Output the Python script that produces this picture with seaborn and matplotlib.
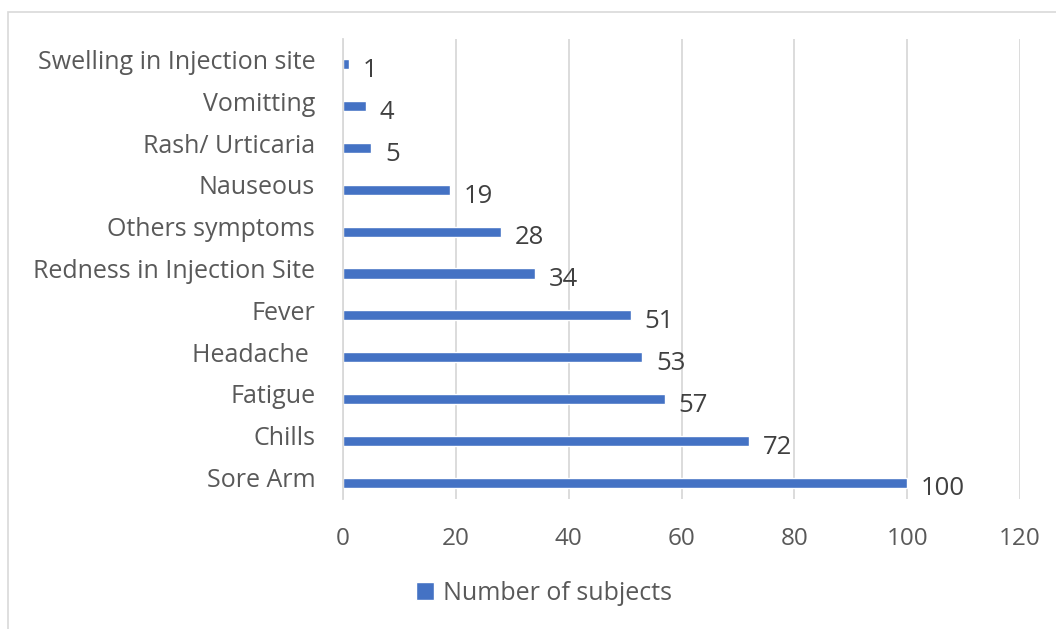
import matplotlib
matplotlib.use("Agg")
import matplotlib.pyplot as plt
import matplotlib.transforms as mtrans
import seaborn as sns
import pandas as pd
from matplotlib.patches import Rectangle

symptoms = ["Swelling in Injection site", "Vomitting", "Rash/ Urticaria", "Nauseous",
            "Others symptoms", "Redness in Injection Site", "Fever", "Headache ",
            "Fatigue", "Chills", "Sore Arm"]
counts = [1, 4, 5, 19, 28, 34, 51, 53, 57, 72, 100]
x_ticks = [0, 20, 40, 60, 80, 100, 120]
series_name = "Number of subjects"

df = pd.DataFrame({"symptom": symptoms, "count": counts})

sns.set_theme(style="white")
plt.rcParams['font.family'] = ['Open Sans', 'DejaVu Sans']

fig = plt.figure(figsize=(10.56, 6.29), dpi=100)
ax = fig.add_axes([343/1056, 1 - 499/629, (1020 - 343)/1056, (499 - 39)/629])

bar_color = "#4472C4"
sns.barplot(data=df, x="count", y="symptom", order=symptoms, color=bar_color,
            width=0.24, ax=ax, saturation=1, label=series_name)

ax.set_xlim(0, 120)
ax.set_ylim(len(symptoms) - 0.5 - 0.108, -0.5 - 0.108)
ax.set_xticks(x_ticks)
ax.set_xticklabels([str(t) for t in x_ticks])
ax.set_xlabel("")
ax.set_ylabel("")
ax.grid(axis="x", color="#d9d9d9", linewidth=1.3)
ax.set_axisbelow(True)
for s in ["top", "right", "bottom"]:
    ax.spines[s].set_visible(False)
ax.spines["left"].set_color("#d9d9d9")
ax.spines["left"].set_linewidth(1.3)
ax.tick_params(axis="x", length=0, pad=20, labelsize=17.5, labelcolor="#595959")
ax.tick_params(axis="y", length=0, pad=20, labelsize=18, labelcolor="#595959")
ax.set_yticks(range(len(symptoms)))
ax.set_yticklabels(symptoms, va="center")
for lbl in ax.get_yticklabels():
    lbl.set_transform(lbl.get_transform() + mtrans.ScaledTranslation(0, 2/100, fig.dpi_scale_trans))

for container in ax.containers:
    anns = ax.bar_label(container, labels=[str(v) for v in counts], padding=10,
                        fontsize=18.5, color="#404040")
    for a in anns:
        x0, y0 = a.xyann
        a.xyann = (x0, y0 - 4.5)

leg = ax.legend(loc="center", bbox_to_anchor=(0.515, 1 - 593/629), bbox_transform=fig.transFigure,
                frameon=False, fontsize=18, handlelength=0.75, handleheight=0.75,
                handletextpad=0.35)
for t in leg.get_texts():
    t.set_color("#595959")

fig.patches.append(Rectangle((8/1056, -0.1), 1.2, 1.1 - 12/629, transform=fig.transFigure,
                             fill=False, edgecolor="#d9d9d9", linewidth=1.2))

fig.savefig("out.png", dpi=100)
